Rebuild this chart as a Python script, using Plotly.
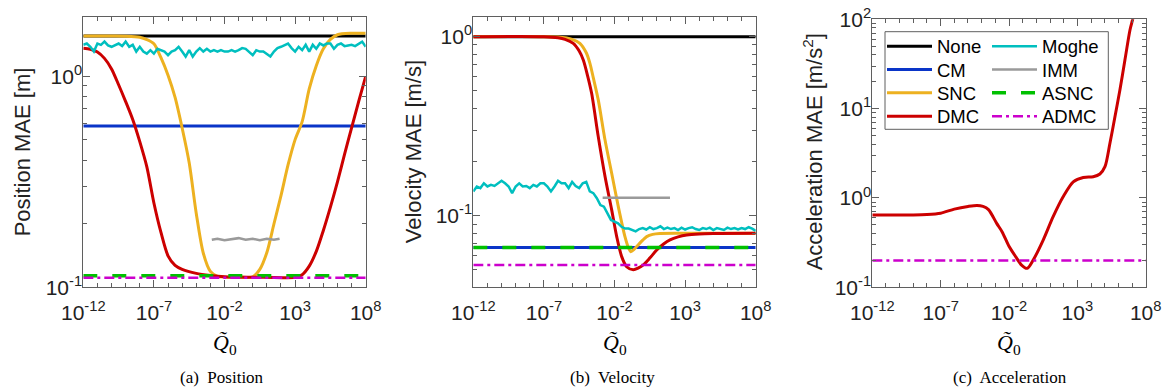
import plotly.graph_objects as go

FONT = "Liberation Sans, Arial, Helvetica, sans-serif"
SERIF = "Liberation Serif, Times New Roman, serif"
AX = "#5f5f5f"

# ---------------- data (x given as log10 of Q0) ----------------
# Position panel
pos_flat_x = [-12, 8]
pos_none = [1.552, 1.552]
pos_cm = [0.581, 0.581]
pos_asnc = [0.1135, 0.1135]
pos_admc = [0.111, 0.111]

pos_snc_x = [-12, -10, -9, -8, -7.5, -7, -6.5, -6, -5.5, -5, -4.5, -4, -3.5, -3, -2.5, -2, -1, 0,
             0.5, 1, 1.5, 2, 2.5, 3, 3.5, 4, 4.5, 5, 5.5, 6, 7, 8]
pos_snc = [1.552, 1.552, 1.549, 1.531, 1.493, 1.426, 1.225, 1.012, 0.794, 0.569, 0.389, 0.224, 0.145,
           0.119, 0.1127, 0.1117, 0.1117, 0.1122, 0.1216, 0.1462, 0.1995, 0.272, 0.380, 0.501, 0.610,
           0.871, 1.122, 1.349, 1.496, 1.574, 1.600, 1.600]

pos_dmc_x = [-12, -11.5, -11, -10.5, -10, -9.5, -9, -8.5, -8, -7.5, -7, -6.5, -6, -5.5, -5, -4, -3, -2,
             0, 3, 3.5, 4, 4.5, 5, 5.5, 6, 6.5, 7, 7.5, 8]
pos_dmc = [1.358, 1.343, 1.303, 1.216, 1.084, 0.912, 0.759, 0.624, 0.490, 0.372, 0.251, 0.182, 0.141,
           0.127, 0.1216, 0.1164, 0.1138, 0.1122, 0.1117, 0.1117, 0.1148, 0.126, 0.148, 0.186, 0.240,
           0.316, 0.427, 0.569, 0.759, 1.0]

pos_moghe = [1.41, 1.43, 1.38, 1.31, 1.43, 1.41, 1.46, 1.40, 1.38, 1.41, 1.43, 1.39,
             1.46, 1.38, 1.41, 1.31, 1.38, 1.31, 1.28, 1.33, 1.28, 1.35, 1.33, 1.31,
             1.26, 1.31, 1.33, 1.38, 1.31, 1.24, 1.33, 1.24, 1.31, 1.36, 1.31, 1.35,
             1.31, 1.33, 1.31, 1.33, 1.31, 1.31, 1.33, 1.31, 1.33, 1.36, 1.35, 1.31,
             1.26, 1.33, 1.31, 1.31, 1.28, 1.24, 1.31, 1.36, 1.38, 1.40, 1.43, 1.36,
             1.31, 1.38, 1.33, 1.41, 1.31, 1.41, 1.35, 1.43, 1.40, 1.43, 1.43, 1.35,
             1.41, 1.43, 1.39, 1.40, 1.41, 1.39, 1.43, 1.46, 1.38]

pos_imm_x = [-2.9, -2.5, -2, -1.5, -1, -0.5, 0, 0.5, 1, 1.5, 1.9]
pos_imm = [0.168, 0.170, 0.167, 0.169, 0.171, 0.168, 0.170, 0.167, 0.170, 0.168, 0.170]

# Velocity panel
vel_none = [1.0, 1.0]
vel_cm = [0.0666, 0.0666]
vel_asnc = [0.0666, 0.0666]
vel_admc = [0.0533, 0.0533]
vel_imm_x = [-2.84, 1.93]
vel_imm = [0.1265, 0.1265]

vel_snc_x = [-12, -7, -6, -5, -4.45, -4, -3.74, -3.5, -3.15, -2.67, -2.2, -1.73, -1.26, -1.0, -0.85,
             -0.6, -0.43, 0.0, 0.28, 0.7, 1.22, 3, 8]
vel_snc = [1.0, 1.0, 0.995, 0.966, 0.918, 0.813, 0.710, 0.589, 0.444, 0.265, 0.173, 0.1127, 0.0767,
           0.0661, 0.0632, 0.0653, 0.0675, 0.0733, 0.0767, 0.0789, 0.0798, 0.0800, 0.0800]

vel_dmc_x = [-12, -7, -6, -5.5, -4.92, -4.5, -4.21, -3.9, -3.62, -3.15, -2.67, -2.2, -1.84, -1.49,
             -1.14, -0.67, -0.3, 0.04, 0.5, 0.99, 1.5, 1.93, 2.5, 3.11, 4, 5, 8]
vel_dmc = [1.0, 1.0, 0.986, 0.966, 0.918, 0.832, 0.741, 0.603, 0.483, 0.277, 0.166, 0.1081, 0.0764,
           0.0593, 0.0521, 0.0501, 0.0513, 0.0533, 0.0582, 0.0646, 0.0700, 0.0735, 0.0764, 0.0783,
           0.0794, 0.0798, 0.0800]

vel_moghe = [0.137, 0.146, 0.143, 0.152, 0.146, 0.149, 0.147, 0.152, 0.157, 0.152, 0.146, 0.134,
             0.146, 0.152, 0.146, 0.147, 0.143, 0.149, 0.146, 0.152, 0.152, 0.146, 0.137, 0.146,
             0.157, 0.152, 0.152, 0.143, 0.155, 0.147, 0.143, 0.152, 0.155, 0.137, 0.134, 0.1255,
             0.115, 0.1127, 0.1035, 0.095, 0.093, 0.091, 0.087, 0.085,
             0.085, 0.0835, 0.082, 0.0845, 0.0855, 0.084, 0.0865, 0.0845, 0.0855, 0.0875, 0.0845,
             0.086, 0.0845, 0.0855, 0.0835, 0.086, 0.084, 0.0855, 0.0865, 0.0845, 0.0835, 0.0855,
             0.0845, 0.086, 0.0835, 0.0855, 0.0845, 0.0835, 0.086, 0.0845, 0.0855, 0.084, 0.0855,
             0.0845, 0.0865, 0.085, 0.0825]

# Acceleration panel
acc_admc = [0.2, 0.2]
acc_dmc_x = [-12, -9, -8, -7, -6, -5, -4.34, -3.9, -3.5, -2.9, -2.5, -2.0, -1.5, -1.08, -0.67, -0.23,
             0.5, 1.23, 1.96, 2.7, 3.43, 4.16, 4.65, 5.02, 5.38, 5.75, 6.11, 6.48, 6.85, 7.09, 7.3]
acc_dmc = [0.644, 0.646, 0.653, 0.676, 0.750, 0.804, 0.826, 0.804, 0.741, 0.519, 0.417, 0.288, 0.219,
           0.177, 0.163, 0.202, 0.338, 0.617, 1.03, 1.514, 1.698, 1.726, 1.854, 2.239, 4.07, 8.11,
           16.1, 35.0, 75.9, 107.0, 178.0]

x_tick_exp = [-12, -7, -2, 3, 8]
x_tick_text = ["10<sup>-12</sup>", "10<sup>-7</sup>", "10<sup>-2</sup>", "10<sup>3</sup>", "10<sup>8</sup>"]

# ---------------- helpers ----------------
def q(exps):
    return [10.0 ** e for e in exps]

moghe_x = [-12 + 0.25 * i for i in range(len(pos_moghe))]

C = dict(none="#000000", cm="#0a35c8", snc="#EDB120", dmc="#CC0000", moghe="#00BFBF",
         imm="#9a9a9a", asnc="#00C000", admc="#CC00CC")
NAME = dict(none="None", cm="CM", snc="SNC", dmc="DMC", moghe="Moghe", imm="IMM",
            asnc="ASNC", admc="ADMC")
DASH = dict(asnc="14px,15px", admc="10px,4px,3px,4px")
WIDTH = dict(none=3, cm=3, snc=3, dmc=3, moghe=2.5, imm=2.5, asnc=3.5, admc=2.5)
# one small legend per entry, arranged as 2 columns x 4 rows inside the third panel
LEG = dict(none=("legend", 0, 0), cm=("legend2", 0, 1), snc=("legend3", 0, 2), dmc=("legend4", 0, 3),
           moghe=("legend5", 1, 0), imm=("legend6", 1, 1), asnc=("legend7", 1, 2), admc=("legend8", 1, 3))

fig = go.Figure()

def add(key, xe, y, ax, legend=False, smooth=False):
    fig.add_trace(go.Scatter(
        x=q(xe), y=y, mode="lines", name=NAME[key], hoverinfo="skip",
        showlegend=legend, legend=LEG[key][0], xaxis="x" + ax, yaxis="y" + ax,
        line=dict(color=C[key], width=WIDTH[key], dash=DASH.get(key, "solid"),
                  shape="spline" if smooth else "linear", smoothing=0.8 if smooth else None)))

# Panel 1
add("none", pos_flat_x, pos_none, "", True)
add("cm", pos_flat_x, pos_cm, "", True)
add("snc", pos_snc_x, pos_snc, "", True, True)
add("dmc", pos_dmc_x, pos_dmc, "", True, True)
add("moghe", moghe_x, pos_moghe, "", True)
add("imm", pos_imm_x, pos_imm, "", True)
add("asnc", pos_flat_x, pos_asnc, "", True)
add("admc", pos_flat_x, pos_admc, "", True)
# Panel 2
add("none", pos_flat_x, vel_none, "2")
add("cm", pos_flat_x, vel_cm, "2")
add("snc", vel_snc_x, vel_snc, "2", False, True)
add("dmc", vel_dmc_x, vel_dmc, "2", False, True)
add("moghe", moghe_x, vel_moghe, "2")
add("imm", vel_imm_x, vel_imm, "2")
add("asnc", pos_flat_x, vel_asnc, "2")
add("admc", pos_flat_x, vel_admc, "2")
# Panel 3
add("dmc", acc_dmc_x, acc_dmc, "3", False, True)
add("admc", pos_flat_x, acc_admc, "3")

W, H = 1163, 391

def xax(left, right, anchor):
    return dict(type="log", domain=[left / W, right / W], anchor=anchor, range=[-12, 8],
                tickmode="array", tickvals=q(x_tick_exp), ticktext=x_tick_text,
                ticks="inside", ticklen=7, tickwidth=1, tickcolor=AX,
                showline=True, linecolor=AX, linewidth=1, mirror="allticks",
                showgrid=False, zeroline=False, automargin=False, ticklabelstandoff=6,
                minor=dict(tickvals=q(range(-12, 9)), ticks="inside", ticklen=4,
                           tickcolor=AX, tickwidth=1, showgrid=False),
                tickfont=dict(family=FONT, size=21, color="#222222"))

def yax(top, bottom, anchor, rng, major, minor, labels):
    return dict(type="log", domain=[1 - bottom / H, 1 - top / H], anchor=anchor, range=rng,
                tickmode="array", tickvals=major, ticktext=labels,
                ticks="inside", ticklen=7, tickwidth=1, tickcolor=AX,
                showline=True, linecolor=AX, linewidth=1, mirror="allticks",
                showgrid=False, zeroline=False, automargin=False, ticklabelstandoff=-4,
                minor=dict(tickvals=minor, ticks="inside", ticklen=4,
                           tickcolor=AX, tickwidth=1, showgrid=False),
                tickfont=dict(family=FONT, size=21, color="#222222"))

minor_a = [0.2, 0.3, 0.4, 0.5, 0.6, 0.7, 0.8, 0.9]
minor_b = [0.05, 0.06, 0.07, 0.08, 0.09] + minor_a
minor_c = minor_a + [2, 3, 4, 5, 6, 7, 8, 9] + [20, 30, 40, 50, 60, 70, 80, 90]

fig.update_layout(
    width=W, height=H, margin=dict(l=0, r=0, t=0, b=0, autoexpand=False),
    paper_bgcolor="white", plot_bgcolor="white", hovermode=False,
    xaxis=xax(83.3, 365.7, "y"),
    xaxis2=xax(473.3, 755.7, "y2"),
    xaxis3=xax(872.3, 1145.7, "y3"),
    yaxis=yax(17.3, 287.3, "x", [-1, 0.2796], [0.1, 1], minor_a,
              ["10<sup>-1</sup>", "10<sup>0</sup>"]),
    yaxis2=yax(17.3, 287.3, "x2", [-1.398, 0.108], [0.1, 1], minor_b,
               ["10<sup>-1</sup>", "10<sup>0</sup>"]),
    yaxis3=yax(19.3, 287.3, "x3", [-1, 2], [0.1, 1, 10, 100], minor_c,
               ["10<sup>-1</sup>", "10<sup>0</sup>", "10<sup>1</sup>", "10<sup>2</sup>"]),
    showlegend=True,
)

# legend frame (white box with grey border)
fig.add_shape(type="rect", xref="paper", yref="paper", x0=885 / W, x1=1108.3 / W,
              y0=1 - 129.3 / H, y1=1 - 31.7 / H, layer="above",
              line=dict(color=AX, width=1), fillcolor="white")

col_x = [882, 987]
row_y = [46.7, 70, 93.3, 116.7]
legs = {}
for key, (lid, ci, ri) in LEG.items():
    legs[lid] = dict(x=col_x[ci] / W, y=1 - row_y[ri] / H, xanchor="left", yanchor="middle",
                     orientation="v", itemwidth=45, bgcolor="rgba(0,0,0,0)", borderwidth=0,
                     font=dict(family=FONT, size=18.5, color="black"))
fig.update_layout(**legs)

ann = []
for xc, txt in [(22, "Position MAE [m]"), (413, "Velocity MAE [m/s]"),
                (813, "Acceleration MAE [m/s<sup>2</sup>]")]:
    ann.append(dict(x=xc / W, y=1 - 152.3 / H, xref="paper", yref="paper", text=txt,
                    textangle=-90, showarrow=False, xanchor="center", yanchor="middle",
                    font=dict(family=FONT, size=22, color="#222222")))
for xc in [224.5, 614.5, 1009]:
    ann.append(dict(x=xc / W, y=1 - 344 / H, xref="paper", yref="paper",
                    text="<i>Q\u0303</i><sub>0</sub>", showarrow=False,
                    xanchor="center", yanchor="middle",
                    font=dict(family=SERIF, size=22, color="black")))
for xc, txt in [(222, "(a)  Position"), (612, "(b)  Velocity"), (1010, "(c)  Acceleration")]:
    ann.append(dict(x=xc / W, y=1 - 377 / H, xref="paper", yref="paper", text=txt,
                    showarrow=False, xanchor="center", yanchor="middle",
                    font=dict(family=SERIF, size=17, color="black")))
fig.update_layout(annotations=ann)

fig.write_html("out.html", config={"displayModeBar": False, "staticPlot": True},
               post_script="document.body.style.margin='0';document.body.style.padding='0';"
                           "document.body.style.overflow='hidden';")
